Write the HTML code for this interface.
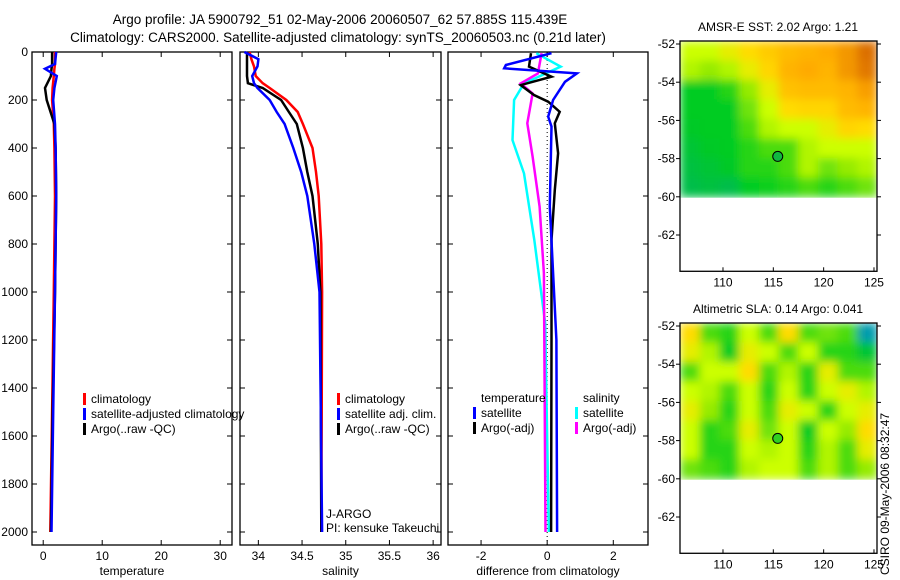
<!DOCTYPE html>
<html><head><meta charset="utf-8"><style>
body{margin:0;background:#fff;}
svg{display:block;font-family:"Liberation Sans",sans-serif;}
</style></head><body>
<svg id="c" width="900" height="580" xmlns="http://www.w3.org/2000/svg">
<defs>
<filter id="blur" x="-5%" y="-5%" width="110%" height="110%"><feGaussianBlur stdDeviation="4.5" edgeMode="duplicate"/></filter>
<clipPath id="clip1"><rect x="680" y="41" width="197" height="156.8"/></clipPath>
<clipPath id="clip2"><rect x="680" y="323" width="197" height="156.8"/></clipPath>
</defs>
<text x="340" y="24" font-size="13.5" text-anchor="middle">Argo profile: JA 5900792_51 02-May-2006 20060507_62 57.885S 115.439E</text>
<text x="338" y="42" font-size="13.5" text-anchor="middle">Climatology: CARS2000. Satellite-adjusted climatology: synTS_20060503.nc (0.21d later)</text>
<g id="g"></g>
<text transform="translate(889,575) rotate(-90)" font-size="12">CSIRO 09-May-2006 08:32:47</text>
</svg>
<script>
// ---- data ----
const depthTicks=[0,200,400,600,800,1000,1200,1400,1600,1800,2000];
const tempTicks=[0,10,20,30];
const salTicks=[34,34.5,35,35.5,36];
const diffTicks=[-2,0,2];
const tDepth=[0,50,70,100,150,200,300,400,600,1000,1500,2000];
const tClim=[2.0,2.0,1.9,1.8,1.6,1.5,1.8,1.9,2.0,1.8,1.5,1.2];
const tSat=[2.2,2.0,0.3,2.3,1.9,1.7,2.0,2.1,2.2,2.0,1.7,1.4];
const tArgo=[1.5,1.5,1.4,1.3,0.3,0.6,1.9,2.1,2.2,2.0,1.6,1.3];
const sDepth=[0,30,60,100,130,150,200,250,300,400,500,600,800,1000,2000];
const sClim=[33.9,33.92,33.95,33.97,34.05,34.13,34.32,34.45,34.51,34.62,34.66,34.69,34.72,34.73,34.72];
const sSat=[33.84,34.0,33.99,33.93,33.95,33.99,34.13,34.21,34.30,34.40,34.49,34.56,34.64,34.70,34.73];
const sArgo=[33.87,33.87,33.87,33.87,33.88,34.05,34.26,34.35,34.44,34.51,34.56,34.62,34.68,34.71,34.72];
const dTempSatDepth=[5,54,68,89,124,200,269,311,644,1200,2000];
const dTempSat=[0.13,-1.25,-1.3,0.9,0.54,0.18,0.03,0.13,0.08,0.28,0.3];
const dTempArgoDepth=[5,61,103,138,179,207,249,297,422,575,783,1200,2000];
const dTempArgo=[-0.49,-0.55,0.13,-0.8,-0.4,0.03,0.38,0.23,0.33,0.23,0.13,0.13,0.12];
const dSalArgoDepth=[5,89,131,173,297,436,644,922,2000];
const dSalArgo=[-0.17,-0.28,-0.8,-0.44,-0.6,-0.44,-0.23,-0.1,-0.05];
const dSalSatDepth=[5,61,131,200,367,506,783,1130,2000];
const dSalSat=[-0.33,0.41,-0.7,-1.0,-1.05,-0.7,-0.39,-0.06,0.05];
const lonTicks=[110,115,120,125];
const latTicks=[-52,-54,-56,-58,-60,-62];
const sstGrid=[
[0.5,0.5,0.55,0.6,0.65,0.7,0.72,0.75,0.8,0.9],
[0.45,0.4,0.45,0.55,0.62,0.72,0.75,0.72,0.8,0.88],
[0.2,0.2,0.25,0.4,0.55,0.68,0.7,0.7,0.72,0.78],
[0.2,0.2,0.2,0.35,0.5,0.6,0.62,0.62,0.7,0.72],
[0.18,0.2,0.2,0.3,0.45,0.5,0.5,0.55,0.62,0.6],
[0.15,0.18,0.2,0.25,0.3,0.3,0.45,0.5,0.5,0.5],
[0.12,0.15,0.18,0.25,0.25,0.3,0.45,0.35,0.4,0.45],
[0.1,0.12,0.1,0.2,0.22,0.25,0.3,0.25,0.3,0.35]];
const slaGrid=[
[0.6,0.3,0.25,0.5,0.3,0.6,0.3,0.35,0.3,0.05],
[0.55,0.45,0.2,0.55,0.5,0.3,0.5,0.25,0.25,0.15],
[0.3,0.5,0.5,0.6,0.3,0.45,0.25,0.55,0.3,0.3],
[0.5,0.45,0.3,0.5,0.25,0.5,0.25,0.5,0.55,0.45],
[0.55,0.4,0.25,0.5,0.3,0.55,0.5,0.25,0.5,0.55],
[0.5,0.25,0.3,0.55,0.35,0.5,0.2,0.5,0.4,0.6],
[0.5,0.25,0.25,0.5,0.45,0.5,0.25,0.45,0.3,0.55],
[0.35,0.3,0.25,0.45,0.5,0.5,0.3,0.45,0.3,0.4]];
const floatLon=115.439, floatLat=-57.885;

// ---- drawing ----
const NS="http://www.w3.org/2000/svg";
const G=document.getElementById('g');
function el(t,a,p){const e=document.createElementNS(NS,t);for(const k in a)e.setAttribute(k,a[k]);(p||G).appendChild(e);return e;}
const TOP=52,BOT=545;
const yD=d=>TOP+d*0.24;
function panel(x0,x1,dmin,dmax,ticks,title,name,depthLabels){
  const xs=v=>x0+(v-dmin)/(dmax-dmin)*(x1-x0);
  const r=el('rect',{x:x0,y:TOP,width:x1-x0,height:BOT-TOP,fill:'none',stroke:'#000','stroke-width':1.3});
  
  
  ticks.forEach(v=>{
    el('line',{x1:xs(v),x2:xs(v),y1:BOT,y2:BOT-5,stroke:'#000'});
    el('line',{x1:xs(v),x2:xs(v),y1:TOP,y2:TOP+5,stroke:'#000'});
    const t=el('text',{x:xs(v),y:560,'font-size':12,'text-anchor':'middle'});t.textContent=v;
    
    
  });
  depthTicks.forEach(d=>{
    el('line',{x1:x0,x2:x0+5,y1:yD(d),y2:yD(d),stroke:'#000'});
    el('line',{x1:x1,x2:x1-5,y1:yD(d),y2:yD(d),stroke:'#000'});
    if(depthLabels){const t=el('text',{x:x0-4,y:yD(d)+4,'font-size':12,'text-anchor':'end'});t.textContent=d;
      
      }
  });
  const t=el('text',{x:(x0+x1)/2,y:575,'font-size':12,'text-anchor':'middle'});t.textContent=title;
  
  
  return xs;
}
function line(xs,depths,vals,color,w,name){
  let d='';
  depths.forEach((z,i)=>{d+=(i?'L':'M')+xs(vals[i]).toFixed(1)+','+yD(z).toFixed(1);});
  const p=el('path',{d:d,fill:'none',stroke:color,'stroke-width':w});
  
  
}
function legend(x,y,items,name){
  items.forEach((it,i)=>{
    if(it[0])el('rect',{x:x,y:y+i*15-9,width:3,height:12,fill:it[0]});
    const t=el('text',{x:x+8,y:y+i*15+1,'font-size':12});t.textContent=it[1];
    
    
  });
}
// panel 1
const xT=panel(32,232,-1.9,32,tempTicks,'temperature','temperature-panel',true);
line(xT,tDepth,tClim,'#f00',2.5,'temp-climatology-line');
line(xT,tDepth,tArgo,'#000',2.5,'temp-argo-line');
line(xT,tDepth,tSat,'#00f',2.5,'temp-satellite-line');
legend(83,402,[['#f00','climatology'],['#00f','satellite-adjusted climatology'],['#000','Argo(..raw -QC)']],'temp-legend');
// panel 2
const xS=panel(240,441,33.79,36.09,salTicks,'salinity','salinity-panel',false);
line(xS,sDepth,sClim,'#f00',2.5,'sal-climatology-line');
line(xS,sDepth,sArgo,'#000',2.5,'sal-argo-line');
line(xS,sDepth,sSat,'#00f',2.5,'sal-satellite-line');
legend(337,402,[['#f00','climatology'],['#00f','satellite adj. clim.'],['#000','Argo(..raw -QC)']],'sal-legend');
{const t=el('text',{x:326,y:518,'font-size':12});t.textContent='J-ARGO';

const t2=el('text',{x:326,y:532,'font-size':12});t2.textContent='PI: kensuke Takeuchi';
}
// panel 3
const xF=panel(448,648,-3.0,3.05,diffTicks,'difference from climatology','difference-panel',false);
el('line',{x1:xF(0),x2:xF(0),y1:TOP,y2:BOT,stroke:'#000','stroke-dasharray':'1,3'});
line(xF,dSalSatDepth,dSalSat,'#0ff',2.5,'diff-sal-satellite-line');
line(xF,dSalArgoDepth,dSalArgo,'#f0f',2.5,'diff-sal-argo-line');
line(xF,dTempArgoDepth,dTempArgo,'#000',2.5,'diff-temp-argo-line');
line(xF,dTempSatDepth,dTempSat,'#00f',2.5,'diff-temp-satellite-line');
legend(473,401,[[null,'temperature'],['#00f','satellite'],['#000','Argo(-adj)']],'diff-temp-legend');
legend(575,401,[[null,'salinity'],['#0ff','satellite'],['#f0f','Argo(-adj)']],'diff-sal-legend');
// maps
function cmap(v){
  const s=[[0,[0,176,112]],[0.2,[0,204,32]],[0.4,[150,235,0]],[0.5,[204,255,0]],[0.6,[255,220,0]],[0.75,[255,170,0]],[0.9,[220,112,0]],[1,[200,90,0]]];
  if(v<0.1){const f=v/0.1;const a=[0,110,255],b=[0,200,90];return 'rgb('+a.map((x,i)=>Math.round(x+(b[i]-x)*f)).join(',')+')';}
  for(let i=1;i<s.length;i++){if(v<=s[i][0]){const f=(v-s[i-1][0])/(s[i][0]-s[i-1][0]);return 'rgb('+s[i-1][1].map((x,k)=>Math.round(x+(s[i][1][k]-x)*f)).join(',')+')';}}
  return 'rgb(200,90,0)';
}
function map(top,grid,title,name,sst,clip){
  const x0=680,x1=877,lon0=105.73,lon1=125.3;
  const xs=l=>x0+(l-lon0)/(lon1-lon0)*(x1-x0);
  const ys=la=>top+3+(-52-la)*19.1;
  const bot=ys(-63.9);
  const t=el('text',{x:778,y:top-10,'font-size':12,'text-anchor':'middle'});t.textContent=title;
  
  const rows=grid.length,cols=grid[0].length;
  const cw=(x1-x0)/cols,ch=(ys(-60)-top)/rows;
  const cg=el('g',{'clip-path':'url(#'+clip+')'});
  const bg=el('g',{filter:'url(#blur)'},cg);
  grid.forEach((row,r)=>row.forEach((v,c)=>{
    const cell=el('rect',{x:x0+c*cw,y:top+r*ch,width:cw+0.6,height:ch+0.6,fill:cmap(v)},bg);
    
    
  }));
  const fr=el('rect',{x:x0,y:top,width:x1-x0,height:bot-top,fill:'none',stroke:'#000','stroke-width':1.3});
  
  lonTicks.forEach(l=>{el('line',{x1:xs(l),x2:xs(l),y1:bot,y2:bot-4,stroke:'#000'});
    const tt=el('text',{x:xs(l),y:bot+15,'font-size':12,'text-anchor':'middle'});tt.textContent=l;
    });
  latTicks.forEach(l=>{el('line',{x1:x0,x2:x0-4,y1:ys(l),y2:ys(l),stroke:'#000'});el('line',{x1:x1,x2:x1+4,y1:ys(l),y2:ys(l),stroke:'#000'});
    const tt=el('text',{x:x0-5,y:ys(l)+4,'font-size':12,'text-anchor':'end'});tt.textContent=l;
    });
  const m=el('circle',{cx:xs(floatLon),cy:ys(floatLat),r:5,fill:sst?'#10b840':'#30d020',stroke:'#000','stroke-width':1});
  
}
map(41,sstGrid,'AMSR-E SST: 2.02 Argo: 1.21','sst-map',true,'clip1');
map(323,slaGrid,'Altimetric SLA: 0.14 Argo: 0.041','sla-map',false,'clip2');
</script>
</body></html>
